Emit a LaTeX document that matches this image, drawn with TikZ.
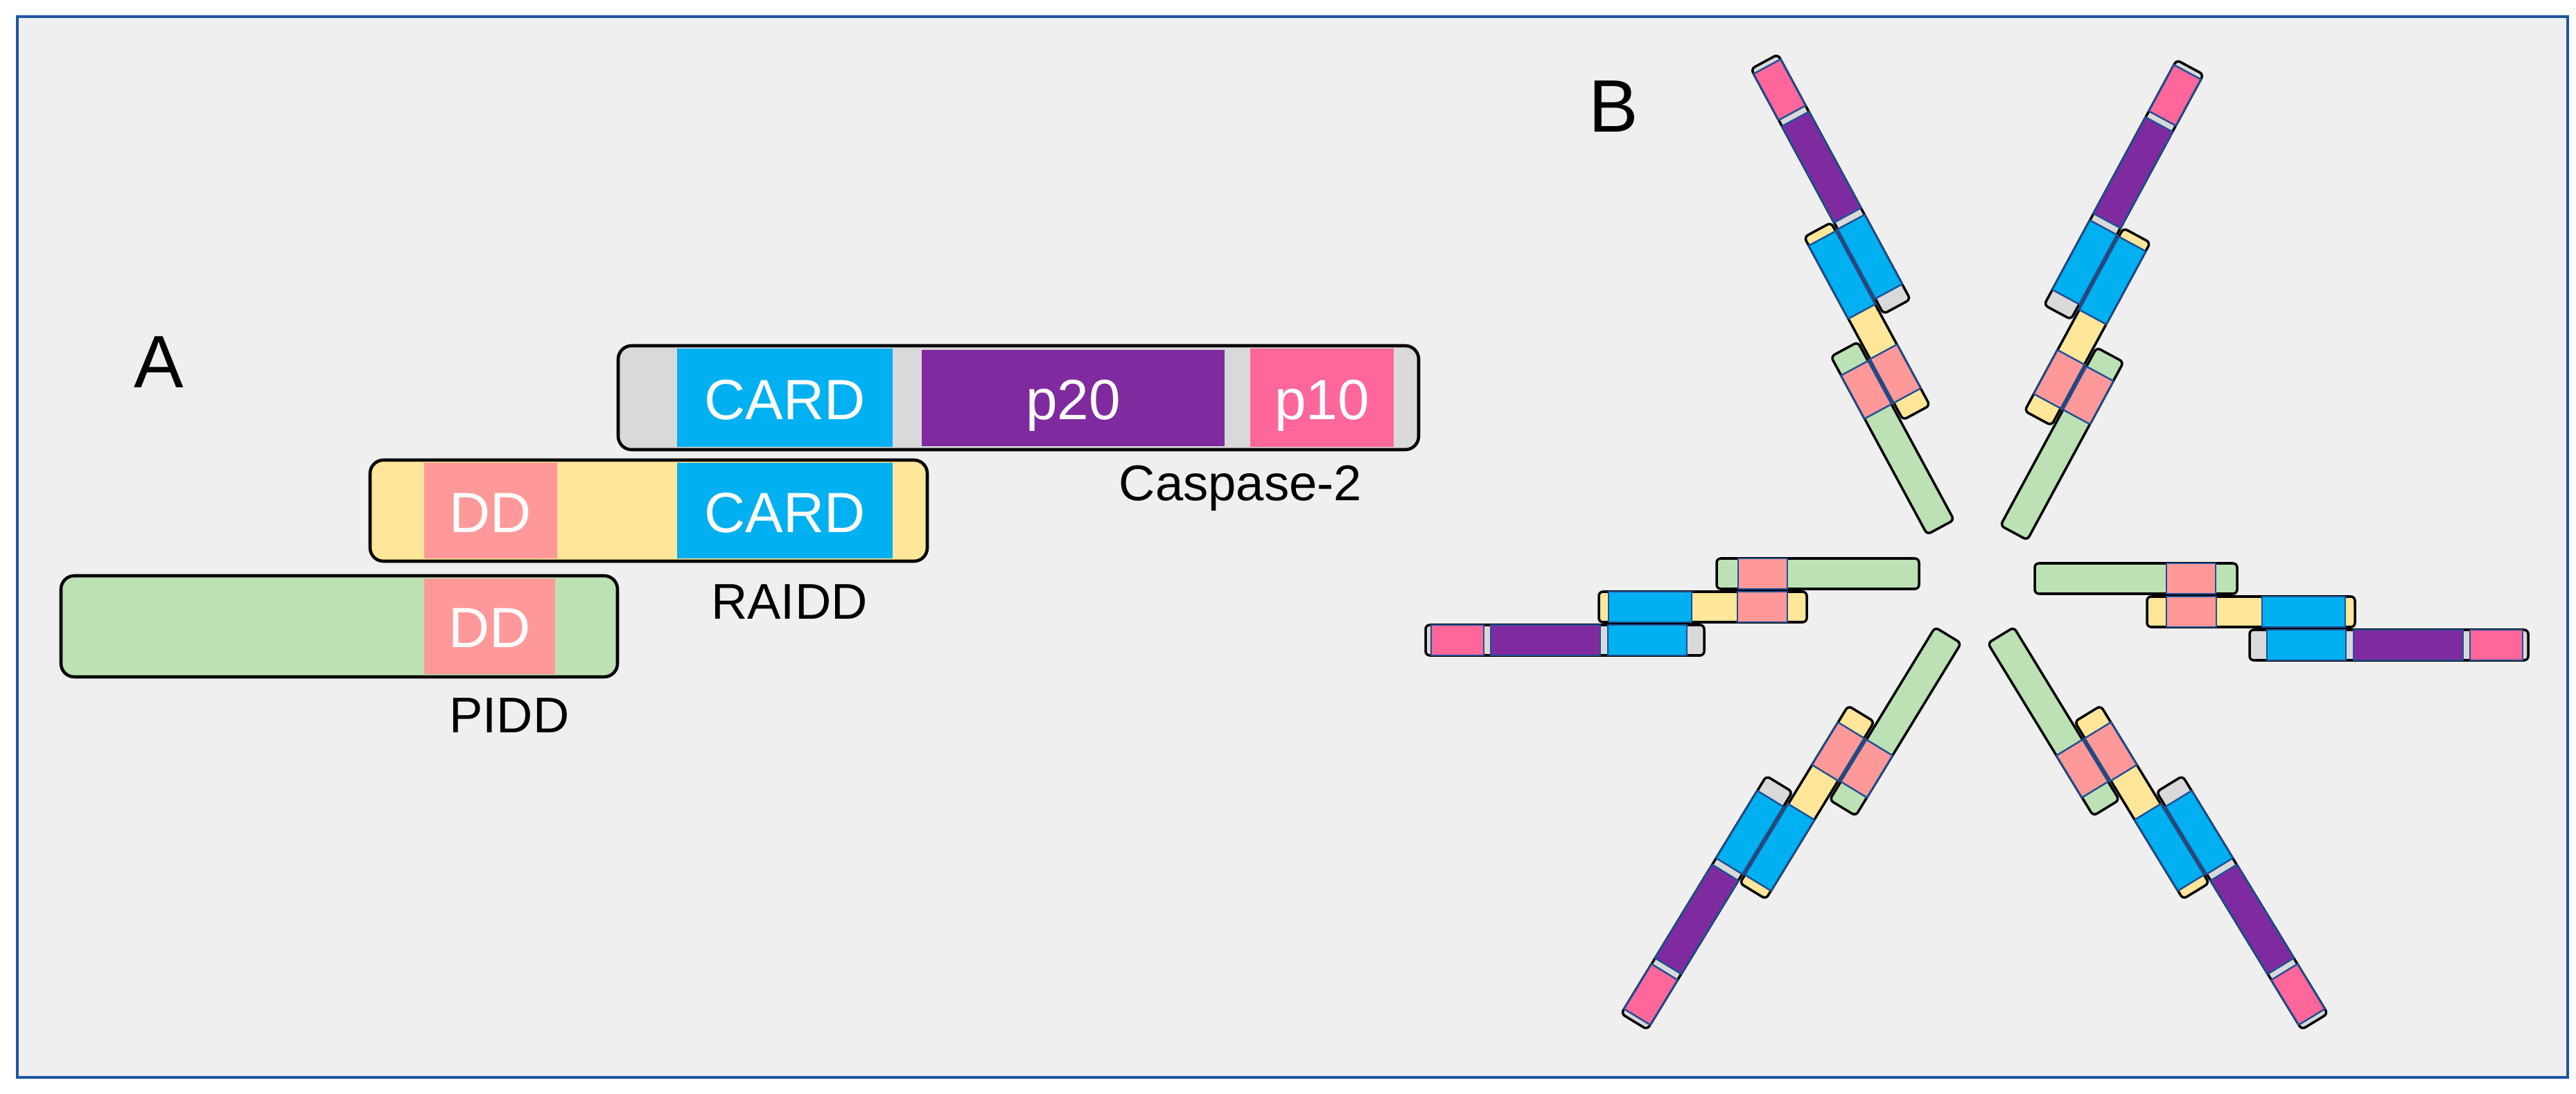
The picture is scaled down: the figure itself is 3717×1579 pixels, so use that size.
\documentclass[tikz,border=0pt]{standalone}
\usepackage{fontspec}
\setmainfont{Liberation Sans}
\usepackage{tikz}
\usetikzlibrary{positioning}

\definecolor{cardcol}{RGB}{0,176,240}
\definecolor{ptwentycol}{RGB}{128,42,160}
\definecolor{ptencol}{RGB}{255,102,153}
\definecolor{ddcol}{RGB}{255,153,153}
\definecolor{raiddcol}{RGB}{255,230,153}
\definecolor{piddcol}{RGB}{188,225,180}
\definecolor{caspcol}{RGB}{217,217,217}
\definecolor{bgcol}{RGB}{239,239,239}
\definecolor{framecol}{RGB}{31,86,158}
\definecolor{segline}{RGB}{30,80,150}

\begin{document}
\begin{tikzpicture}[x=0.01cm, y=-0.01cm,
    abar/.style={draw=black, line width=1.3pt, rounded corners=5.5pt},
    bbar/.style={draw=black, line width=1pt, rounded corners=1.7pt},
    bseg/.style={draw=segline, line width=0.7pt},
    segtxt/.style={font=\fontsize{23.3pt}{28pt}\selectfont, text=white, anchor=base, inner sep=0pt},
    nametxt/.style={font=\fontsize{20.6pt}{25pt}\selectfont, anchor=base, inner sep=0pt},
    panellbl/.style={font=\fontsize{30.5pt}{36pt}\selectfont, anchor=base, inner sep=0pt}]
  \useasboundingbox (0,0) rectangle (3717,1579);
  \fill[white] (0,0) rectangle (3717,1579);
  \draw[framecol, line width=1.3pt, fill=bgcol] (25,24) rectangle (3705,1555);

  % Panel A: domain structure
  \node[panellbl] (lblA) at (229,559) {A};
  % Caspase-2
  \draw[abar, fill=caspcol] (892,499) rectangle (2047,649);
  \fill[cardcol] (977,503) rectangle (1288,645);
  \fill[ptwentycol] (1330,505) rectangle (1767,644);
  \fill[ptencol] (1804,503) rectangle (2011,645);
  \node[segtxt] (cspcard) at (1132.5,605) {CARD};
  \node[segtxt] (cspptwenty) at (1548.5,605) {p20};
  \node[segtxt] (cspptn) at (1907.5,605) {p10};
  \node[nametxt] (cspname) at (1790,722) {Caspase-2};
  % RAIDD
  \draw[abar, fill=raiddcol] (534,664) rectangle (1338,810);
  \fill[ddcol] (612,668) rectangle (804,806);
  \fill[cardcol] (977,668) rectangle (1288,806);
  \node[segtxt] (raidddd) at (708,768) {DD};
  \node[segtxt] (raiddcard) at (1132.5,768) {CARD};
  \node[nametxt] (raiddname) at (1139,893) {RAIDD};
  % PIDD
  \draw[abar, fill=piddcol] (88,831) rectangle (891,977);
  \fill[ddcol] (612,835) rectangle (801,973);
  \node[segtxt] (pidddd) at (706.5,934) {DD};
  \node[nametxt] (piddname) at (735,1057) {PIDD};

  % Panel B: six arms round the centre
  \node[panellbl] (lblB) at (2328,191) {B};
  \foreach \ox/\oy/\ang/\flip in {
      2579/876/180/1, 3126/883/0/-1,
      2752/571/118.4/-1, 2954/579/61.6/1,
      2671/1054/238.6/-1, 3027/1054/301.4/1}{
    \begin{scope}[shift={(\ox,\oy)}, rotate=\ang, yscale=\flip]
      % PIDD
      \draw[bbar, fill=piddcol] (-190,26) rectangle (102,70);
      \draw[bseg, fill=ddcol] (0,26) rectangle (71,70);
      % RAIDD
      \draw[bbar, fill=raiddcol] (-28,-22) rectangle (272,22);
      \draw[bseg, fill=ddcol] (0,-22) rectangle (72,22);
      \draw[bseg, fill=cardcol] (138,-22) rectangle (258,22);
      % Caspase-2
      \draw[bbar, fill=caspcol] (120,-70) rectangle (522,-26);
      \draw[bseg, fill=cardcol] (145,-70) rectangle (259,-26);
      \draw[bseg, fill=ptwentycol] (270,-70) rectangle (428,-26);
      \draw[bseg, fill=ptencol] (438,-70) rectangle (514,-26);
    \end{scope}
  }
\end{tikzpicture}
\end{document}
